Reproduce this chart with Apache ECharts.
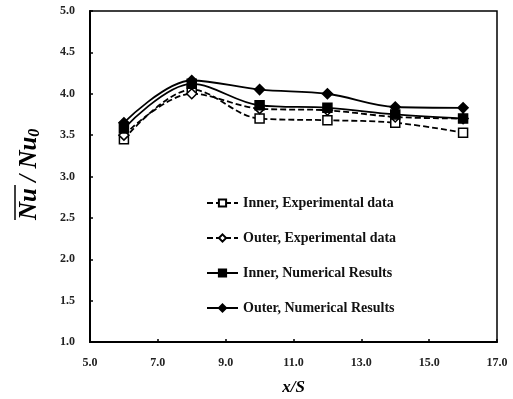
<!DOCTYPE html>
<html><head><meta charset="utf-8">
<script src="https://cdn.jsdelivr.net/npm/echarts@6/dist/echarts.min.js"></script>
<style>html,body{margin:0;padding:0;background:#fff}#c{width:513px;height:399px}</style>
</head><body><div id="c"></div>
<script>
const xVals = [6, 8, 10, 12, 14, 16];
const innerExp = [3.45, 4.05, 3.70, 3.68, 3.65, 3.53];
const outerExp = [3.50, 4.00, 3.82, 3.80, 3.72, 3.70];
const innerNum = [3.58, 4.12, 3.86, 3.83, 3.75, 3.70];
const outerNum = [3.65, 4.16, 4.05, 4.00, 3.84, 3.83];
const xTicks = [5, 7, 9, 11, 13, 15, 17];
const names = ['Inner, Experimental data', 'Outer, Experimental data', 'Inner, Numerical Results', 'Outer, Numerical Results'];

const serif = '"Liberation Serif", "Times New Roman", serif';
const pair = arr => xVals.map((x, i) => [x, arr[i]]);
function mk(name, data, symbol, filled, dashed, size) {
  return {
    name, type: 'line', data: pair(data), smooth: 0.35,
    symbol, symbolSize: size,
    itemStyle: { color: filled ? '#000' : '#fff', borderColor: '#000', borderWidth: 1.5 },
    lineStyle: { color: '#000', width: 1.8, type: dashed ? [6, 3] : 'solid' },
    emphasis: { disabled: true }, z: filled ? 3 : 2
  };
}
const chart = echarts.init(document.getElementById('c'));
chart.setOption({
  animation: false,
  grid: { left: 90, right: 16, top: 11, bottom: 57, containLabel: false, outerBoundsMode: 'none',
          show: true, borderColor: '#000', borderWidth: 1.5 },
  legend: {
    orient: 'vertical', left: 201, top: 191, itemGap: 21, itemWidth: 31, itemHeight: 9,
    data: names,
    textStyle: { fontFamily: serif, fontWeight: 'bold', fontSize: 14, color: '#111' }
  },
  xAxis: {
    type: 'value', min: 5, max: 17,
    name: 'x/S', nameLocation: 'middle', nameGap: 37,
    nameTextStyle: { fontFamily: serif, fontWeight: 'bold', fontStyle: 'italic', fontSize: 17, color: '#000' },
    axisLine: { lineStyle: { color: '#000', width: 2 } },
    axisTick: { inside: true, length: 3, customValues: xTicks, lineStyle: { color: '#000', width: 1.5 } },
    axisLabel: { customValues: xTicks, margin: 15, fontFamily: serif, fontWeight: 'bold', fontSize: 12, color: '#222', formatter: v => v.toFixed(1) },
    splitLine: { show: false }
  },
  yAxis: {
    type: 'value', min: 1, max: 5, interval: 0.5,
    axisLine: { lineStyle: { color: '#000', width: 2 } },
    axisTick: { inside: true, length: 3, lineStyle: { color: '#000', width: 1.5 } },
    axisLabel: { margin: 15, fontFamily: serif, fontWeight: 'bold', fontSize: 12, color: '#222', formatter: v => v.toFixed(1) },
    splitLine: { show: false }
  },
  graphic: [{
    type: 'group', x: 30, y: 220, rotation: Math.PI / 2,
    children: [
      { type: 'text', x: 0, y: 0, style: {
          text: '{a|Nu / Nu}{s|0}', align: 'left', verticalAlign: 'middle',
          rich: {
            a: { fontFamily: serif, fontWeight: 'bold', fontStyle: 'italic', fontSize: 25, fill: '#000' },
            s: { fontFamily: serif, fontWeight: 'bold', fontStyle: 'italic', fontSize: 16, fill: '#000', padding: [10, 0, 0, 0] }
          }
        } },
      { type: 'line', shape: { x1: 0, y1: -15, x2: 35, y2: -15 }, style: { stroke: '#000', lineWidth: 1.5 } }
    ]
  }],
  series: [
    mk(names[0], innerExp, 'rect', false, true, 9),
    mk(names[1], outerExp, 'diamond', false, true, 10),
    mk(names[2], innerNum, 'rect', true, false, 9),
    mk(names[3], outerNum, 'diamond', true, false, 10)
  ]
});
</script></body></html>
